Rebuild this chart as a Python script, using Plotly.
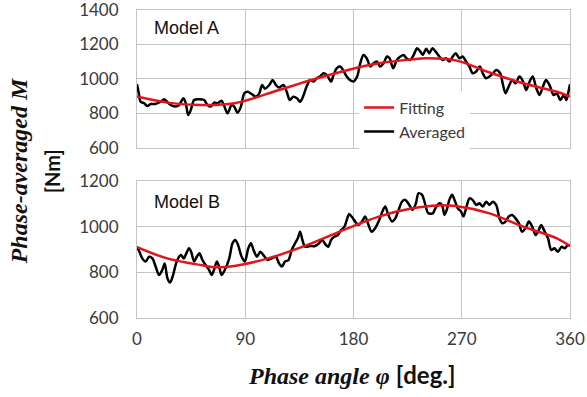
import plotly.graph_objects as go

# ---------------- data ----------------
avg_a_deg = [0, 1.5, 3, 6, 8.6, 11.4, 15, 19.7, 22.5, 25, 28, 32, 35, 38.6, 40.6, 42.5, 44.7, 47.5,
             51.4, 55.8, 58.6, 61.4, 64.2, 67, 70.3, 72.5, 75.3, 78.6, 80.8, 83.6, 86.4, 89.2, 92,
             95.3, 99, 101.7, 104, 106.4, 110, 112.8, 115.5, 118, 121.7, 124.4, 127, 130, 133, 135.6,
             138, 141, 143.9, 146.7, 149.4, 152, 155, 157.8, 161.4, 163, 166, 169, 172, 174.4, 177,
             180, 183, 185.6, 188.3, 191, 194, 196.7, 199.4, 202, 205, 207.8, 210, 213, 216, 219,
             221.7, 224, 227, 230, 232.8, 235.6, 237.5, 240.5, 243, 245.6, 248.3, 251.4, 254, 256.9,
             259.7, 262.5, 265, 268, 270.8, 273.6, 276.4, 279, 282, 285, 287.5, 290, 293, 296, 298.6,
             302, 304, 306.4, 309, 312, 314.7, 318, 321, 323.6, 326.4, 329, 332, 334.7, 337.5, 340,
             343, 346.4, 349, 352, 355, 357, 359, 360]
avg_a_val = [970, 917, 868, 859, 843, 855, 855, 868, 882, 868, 849, 840, 849, 888, 859, 791, 820, 878,
             882, 878, 849, 840, 863, 859, 874, 843, 801, 849, 840, 805, 840, 917, 926,
             913, 898, 917, 965, 944, 965, 994, 965, 950, 965, 927, 878, 897, 888, 868,
             897, 956, 994, 985, 1004, 1014, 1033, 1023, 985, 1014, 1062, 1072, 1043, 1014, 994,
             985, 1014, 1091, 1139, 1120, 1072, 1091, 1101, 1072, 1091, 1130, 1120, 1062, 1110, 1130,
             1139, 1120, 1110, 1139, 1178, 1159, 1140, 1175, 1149, 1178, 1159, 1130, 1110, 1120,
             1101, 1130, 1149, 1120, 1130, 1101, 1072, 1033, 1043, 1072, 1033, 1004, 1014, 1033, 1052,
             1033, 975, 917, 956, 994, 975, 1014, 985, 936, 985, 1014, 946, 907, 956, 994,
             965, 907, 917, 878, 907, 878, 936, 970]

avg_b_deg = [0, 2, 4.4, 7.2, 10, 12.8, 15.5, 18.3, 21, 23, 25.3, 27.5, 30, 33, 36.4, 39, 41, 43.3, 45,
             47.5, 49.7, 51.9, 54.4, 57, 60, 62, 64, 66.4, 68.3, 70.3, 73, 76.7, 79.4, 81.7, 84, 87,
             89.7, 92.5, 94.7, 96.9, 99.7, 102.5, 105, 108.6, 112, 115.5, 118, 120.5, 123, 126, 128.6,
             131.4, 133.7, 135.6, 137.5, 139.7, 143.9, 148, 151.4, 154, 157, 159, 161.4, 164, 167,
             169.7, 172.5, 174.4, 176.4, 178.6, 181.4, 184, 187, 189.7, 192.5, 195, 198, 201.4, 204,
             206.4, 209, 212, 214.7, 217.5, 220.3, 223, 226.4, 229, 231.9, 234, 237, 239.5, 242, 246,
             248, 251.4, 253.6, 255.6, 257.5, 259.7, 262, 264, 266.7, 269.4, 271.4, 273.6, 276.4, 279,
             282, 284.7, 287.5, 290.3, 293, 295.8, 298.6, 301.4, 303.6, 306.4, 309, 312, 314.7, 317.5,
             320, 323, 325.8, 328.6, 331.4, 334, 336, 339, 341.7, 344.4, 347, 350, 353, 355.6, 358.3, 360]
avg_b_val = [912, 890, 861, 847, 868, 861, 825, 788, 810, 839, 774, 755, 788, 847, 876, 861, 883, 905, 890,
             847, 868, 883, 854, 832, 810, 788, 810, 847, 825, 788, 810, 861, 927, 942, 920, 868,
             847, 905, 927, 898, 868, 890, 876, 854, 861, 868, 840, 825, 847, 854, 898,
             927, 949, 978, 942, 912, 915, 915, 927, 942, 920, 912, 942, 956, 963,
             985, 1000, 1029, 1055, 1043, 1022, 1007, 1022, 1044, 1007, 978, 993, 1029, 1066,
             1088, 1051, 1022, 1036, 1073, 1109, 1117, 1095, 1073, 1102, 1146, 1139, 1100, 1060, 1058,
             1080, 1102, 1095, 1051, 1073, 1117, 1139, 1117, 1080, 1066, 1044, 1080, 1124, 1117,
             1095, 1102, 1088, 1109, 1095, 1109, 1095, 1036, 1015, 1022, 1044, 1051, 1036, 1015,
             978, 993, 1022, 1000, 963, 985, 1007, 978, 949, 898, 905, 890, 912, 905, 920, 915]

fit_a_deg = [0, 25, 53, 81, 118, 145, 173, 201, 229, 240, 265, 293, 321, 349, 360]
fit_a_val = [898, 863, 849, 859, 936, 994, 1048, 1091, 1114, 1120, 1108, 1038, 975, 926, 898]

fit_b_deg = [0, 25, 53, 67, 81, 109, 145, 173, 201, 229, 250, 265, 293, 321, 349, 360]
fit_b_val = [910, 861, 832, 822, 828, 861, 927, 988, 1044, 1080, 1093, 1090, 1058, 1000, 949, 915]

x_ticks = [0, 90, 180, 270, 360]
y_ticks_a = [600, 800, 1000, 1200, 1400]
y_ticks_b = [600, 800, 1000, 1200]

# ---------------- figure ----------------
RED = "#e5141b"
BLACK = "#000000"
GRID = "#c4c4c4"
TICKFONT = dict(family="Lato", size=17, color="#3a3a3a")

fig = go.Figure()

fig.add_trace(go.Scatter(x=avg_a_deg, y=avg_a_val, mode="lines", name="Averaged",
                         line=dict(color=BLACK, width=2.5, shape="spline", smoothing=0.8),
                         xaxis="x", yaxis="y", legendrank=2))
fig.add_trace(go.Scatter(x=fit_a_deg, y=fit_a_val, mode="lines", name="Fitting",
                         line=dict(color=RED, width=2.5, shape="spline", smoothing=1.0),
                         xaxis="x", yaxis="y", legendrank=1))
fig.add_trace(go.Scatter(x=avg_b_deg, y=avg_b_val, mode="lines", name="Averaged",
                         line=dict(color=BLACK, width=2.5, shape="spline", smoothing=0.8),
                         xaxis="x2", yaxis="y2", showlegend=False))
fig.add_trace(go.Scatter(x=fit_b_deg, y=fit_b_val, mode="lines", name="Fitting",
                         line=dict(color=RED, width=2.5, shape="spline", smoothing=1.0),
                         xaxis="x2", yaxis="y2", showlegend=False))

common_x = dict(range=[0, 360], tickvals=x_ticks, showgrid=True, gridcolor=GRID, gridwidth=1,
                zeroline=False, showline=True, linecolor=GRID, linewidth=1, mirror=True,
                ticks="", tickfont=TICKFONT, automargin=False, ticklabeloverflow="allow")
common_y = dict(showgrid=True, gridcolor=GRID, gridwidth=1, zeroline=False, showline=True,
                linecolor=GRID, linewidth=1, mirror=True, ticks="", tickfont=TICKFONT,
                ticklabelstandoff=14, automargin=False, ticklabeloverflow="allow")

fig.update_layout(
    width=587, height=397,
    margin=dict(l=137, r=17, t=10, b=79),
    paper_bgcolor="white", plot_bgcolor="white",
    xaxis=dict(common_x, anchor="y", domain=[0, 1], showticklabels=False),
    yaxis=dict(common_y, anchor="x", domain=[0.552, 1], range=[600, 1400], tickvals=y_ticks_a),
    xaxis2=dict(common_x, anchor="y2", domain=[0, 1], showticklabels=True, ticklabelstandoff=6),
    yaxis2=dict(common_y, anchor="x2", domain=[0, 0.445], range=[600, 1200], tickvals=y_ticks_b),
    legend=dict(x=0.513, y=0.738, xanchor="left", yanchor="top", bgcolor="white",
                borderwidth=0, font=dict(family="Lato", size=16, color="#3a3a3a"),
                itemwidth=30, tracegroupgap=0),
    showlegend=True,
)

annotations = [
    dict(text="Model A", x=0.035, y=0.942, xref="paper", yref="paper", xanchor="left",
         yanchor="middle", showarrow=False,
         font=dict(family="Liberation Sans", size=18, color="#111111")),
    dict(text="Model B", x=0.035, y=0.377, xref="paper", yref="paper", xanchor="left",
         yanchor="middle", showarrow=False,
         font=dict(family="Liberation Sans", size=18, color="#111111")),
    dict(text="<b><i>Phase-averaged M</i></b>", x=-0.272, y=0.477, xref="paper", yref="paper",
         xanchor="center", yanchor="middle", textangle=-90, showarrow=False,
         font=dict(family="Liberation Serif", size=24, color="#111111")),
    dict(text="<b>[Nm]</b>", x=-0.196, y=0.477, xref="paper", yref="paper",
         xanchor="center", yanchor="middle", textangle=-90, showarrow=False,
         font=dict(family="Lato", size=20, color="#111111")),
    dict(text="<b><i>Phase angle φ</i></b> <span style='font-family:Lato'><b>[deg.]</b></span>",
         x=0.497, y=-0.185, xref="paper", yref="paper", xanchor="center", yanchor="middle",
         showarrow=False, font=dict(family="Liberation Serif", size=24, color="#111111")),
]
fig.update_layout(annotations=annotations)

fig.write_html("out.html", config={"displayModeBar": False})
